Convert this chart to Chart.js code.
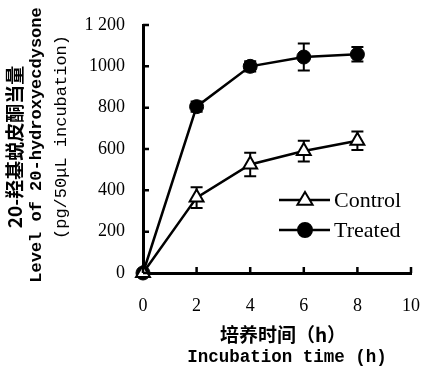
<!DOCTYPE html>
<html>
<head>
<meta charset="utf-8">
<script src="https://cdn.jsdelivr.net/npm/chart.js@4.4.1/dist/chart.umd.min.js"></script>
<style>
  html, body { margin: 0; padding: 0; background: #fff; }
  #wrap { width: 421px; height: 372px; }
</style>
</head>
<body>
<div id="wrap"><canvas id="myChart" width="421" height="372"></canvas></div>
<script>
const hours = [0, 2, 4, 6, 8];
const control = [0, 365, 525, 590, 640];
const controlErr = [0, 50, 57, 50, 45];
const treated = [0, 805, 1000, 1045, 1058];
const treatedErr = [0, 25, 25, 65, 35];
const xTickLabels = ['0', '2', '4', '6', '8', '10'];
const yTickLabels = ['0', '200', '400', '600', '800', '1000', '1 200'];

const serif = '"Liberation Serif", "Times New Roman", serif';
const mono = '"Liberation Mono", "DejaVu Sans Mono", monospace';
const cjk = '"Noto Sans CJK SC", sans-serif';

// error bars, inward ticks, titles and legend
const extras = {
    id: 'extras',
    beforeDatasetsDraw(chart) {
        const ctx = chart.ctx;
        const x = chart.scales.x, y = chart.scales.y;
        ctx.save();
        ctx.strokeStyle = '#000';
        ctx.lineWidth = 2;
        [[control, controlErr], [treated, treatedErr]].forEach(([vals, errs]) => {
            vals.forEach((v, i) => {
                if (!errs[i]) return;
                const px = x.getPixelForValue(hours[i]);
                const top = y.getPixelForValue(v + errs[i]);
                const bot = y.getPixelForValue(v - errs[i]);
                ctx.beginPath();
                ctx.moveTo(px, top); ctx.lineTo(px, bot);
                ctx.moveTo(px - 6, top); ctx.lineTo(px + 6, top);
                ctx.moveTo(px - 6, bot); ctx.lineTo(px + 6, bot);
                ctx.stroke();
            });
        });
        ctx.restore();
    },
    afterDraw(chart) {
        const ctx = chart.ctx;
        const x = chart.scales.x, y = chart.scales.y;
        const area = chart.chartArea;
        ctx.save();
        ctx.strokeStyle = '#000';
        ctx.lineWidth = 2.5;
        // inward tick marks
        ctx.beginPath();
        x.ticks.forEach(t => {
            const px = x.getPixelForValue(t.value);
            ctx.moveTo(px, area.bottom); ctx.lineTo(px, area.bottom - 6);
        });
        y.ticks.forEach(t => {
            const py = y.getPixelForValue(t.value);
            ctx.moveTo(area.left, py); ctx.lineTo(area.left + 6, py);
        });
        ctx.stroke();

        // legend
        const items = [
            { label: 'Control', y: 200, style: 'triangle', fill: '#fff', r: 8 },
            { label: 'Treated', y: 230, style: 'circle', fill: '#000', r: 7 }
        ];
        items.forEach(it => {
            ctx.lineWidth = 2.5;
            ctx.beginPath();
            ctx.moveTo(279, it.y); ctx.lineTo(330, it.y);
            ctx.stroke();
            ctx.lineWidth = 2;
            ctx.fillStyle = it.fill;
            ctx.beginPath();
            if (it.style === 'circle') {
                ctx.arc(305, it.y, it.r, 0, Math.PI * 2);
            } else {
                ctx.moveTo(305, it.y - it.r);
                ctx.lineTo(305 + it.r * 0.95, it.y + it.r * 0.6);
                ctx.lineTo(305 - it.r * 0.95, it.y + it.r * 0.6);
                ctx.closePath();
            }
            ctx.fill();
            ctx.stroke();
            ctx.fillStyle = '#000';
            ctx.font = '22px ' + serif;
            ctx.textAlign = 'left';
            ctx.textBaseline = 'middle';
            ctx.fillText(it.label, 334, it.y + 1);
        });

        // x title
        ctx.fillStyle = '#000';
        ctx.textAlign = 'center';
        ctx.textBaseline = 'middle';
        ctx.font = 'bold 19px ' + cjk;
        ctx.fillText('培养时间（h）', 283, 335);
        ctx.font = 'bold 17.5px ' + mono;
        ctx.fillText('Incubation time (h)', 287, 358);

        // y title
        const lines = [
            { text: '20-羟基蜕皮酮当量', x: 15, y: 147, font: 'bold 19px ' + cjk },
            { text: 'Level of 20-hydroxyecdysone', x: 37, y: 145, font: 'bold 17px ' + mono },
            { text: '(pg/50μL incubation)', x: 61, y: 137, font: '17px ' + mono }
        ];
        lines.forEach(l => {
            ctx.save();
            ctx.translate(l.x, l.y);
            ctx.rotate(-Math.PI / 2);
            ctx.font = l.font;
            ctx.fillText(l.text, 0, 0);
            ctx.restore();
        });
        ctx.restore();
    }
};

const ctx = document.getElementById('myChart');
new Chart(ctx, {
    type: 'line',
    data: {
        datasets: [{
            label: 'Control',
            data: hours.map((h, i) => ({ x: h, y: control[i] })),
            borderColor: '#000',
            borderWidth: 2.5,
            pointStyle: 'triangle',
            pointRadius: 8,
            pointBackgroundColor: '#fff',
            pointBorderColor: '#000',
            pointBorderWidth: 2,
            clip: false
        }, {
            label: 'Treated',
            data: hours.map((h, i) => ({ x: h, y: treated[i] })),
            borderColor: '#000',
            borderWidth: 2.5,
            pointStyle: 'circle',
            pointRadius: 7,
            pointBackgroundColor: '#000',
            pointBorderColor: '#000',
            pointBorderWidth: 1,
            clip: false
        }]
    },
    options: {
        responsive: false,
        animation: false,
        layout: { padding: { left: 0, right: 6, top: 25, bottom: 0 } },
        plugins: {
            legend: { display: false },
            tooltip: { enabled: false }
        },
        scales: {
            x: {
                type: 'linear',
                min: 0,
                max: 10,
                ticks: {
                    stepSize: 2,
                    padding: 22,
                    color: '#000',
                    font: { family: serif, size: 18 },
                    callback: (v) => xTickLabels[v / 2]
                },
                grid: { display: false, drawTicks: false },
                border: { display: true, color: '#000', width: 3 },
                afterFit: (s) => { s.height = 99; s.paddingLeft = 0; s.paddingRight = 0; }
            },
            y: {
                min: 0,
                max: 1200,
                ticks: {
                    stepSize: 200,
                    padding: 18,
                    color: '#000',
                    font: { family: serif, size: 18 },
                    callback: (v) => yTickLabels[v / 200]
                },
                grid: { display: false, drawTicks: false },
                border: { display: true, color: '#000', width: 3 },
                afterFit: (s) => { s.width = 143; s.paddingTop = 0; s.paddingBottom = 0; }
            }
        }
    },
    plugins: [extras]
});
</script>
</body>
</html>
